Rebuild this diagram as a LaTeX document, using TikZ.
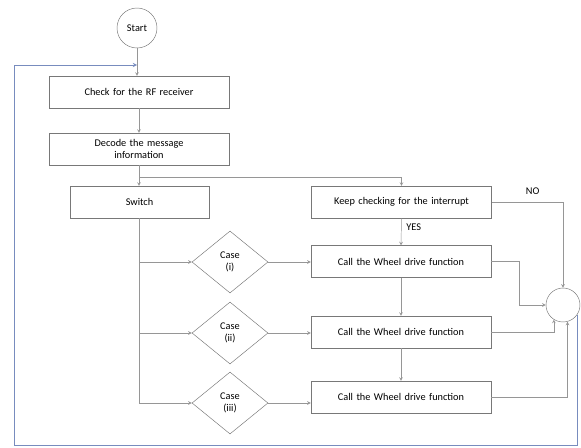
\documentclass[tikz,border=0pt]{standalone}
\usepackage{fontspec}
\setmainfont{Carlito}
\usepackage{tikz}
\usetikzlibrary{positioning,calc,shapes.geometric}
\definecolor{lineclr}{RGB}{150,150,150}
\definecolor{boxclr}{RGB}{120,120,120}
\definecolor{backclr}{RGB}{120,140,190}
\begin{document}
\begin{tikzpicture}[x=0.03cm,y=-0.03cm,font=\fontsize{8.8}{10}\selectfont,
		procbox/.style={draw=boxclr,fill=white,rectangle,minimum width=5.4cm,minimum height=0.95cm,text width=5.2cm,align=center,inner sep=1pt},
		casebox/.style={draw=boxclr,fill=white,diamond,minimum width=2.28cm,minimum height=1.86cm,inner sep=0pt,align=center},
		flow/.style={-stealth,draw=lineclr,thin},
		back/.style={-stealth,draw=backclr,semithick}]
		\useasboundingbox (0,0) rectangle (581,448);
		\node[draw=boxclr,circle,minimum size=1.2cm,inner sep=0pt] (start) at (137,28) {Start};
		\node[procbox] (check) at (139,92) {Check for the RF receiver};
		\node[procbox] (decode) at (139,149) {Decode the message\\information};
		\node[procbox,minimum width=4.17cm,text width=4cm] (switch) at (139.5,202) {Switch};
		\node[procbox] (keep) at (401.5,202) {Keep checking for the interrupt};
		\node[procbox] (call1) at (401,261.5) {Call the Wheel\ drive function};
		\node[procbox] (call2) at (401,332) {Call the Wheel\ drive function};
		\node[procbox] (call3) at (401,397) {Call the Wheel\ drive function};
		\node[casebox] (case1) at (230,262) {Case\\(i)};
		\node[casebox] (case2) at (230,333) {Case\\(ii)};
		\node[casebox] (case3) at (230,403) {Case\\(iii)};
		\node[draw=boxclr,circle,minimum size=1.02cm,inner sep=0pt] (end) at (563,305) {};
		\node[above right=0.1cm and 0.9cm of keep.east] (no) {NO};
		\node[below right=0.05cm and 0.02cm of keep.south] (yes) {YES};
		\coordinate (split) at (139,177);
		\coordinate (loop) at (137,65);
		
		\draw[flow] (start.south)--(check.north-|start.south);
		\draw[flow] (check.south)--(decode.north);
		\draw[flow] (decode.south)--(switch.north-|decode.south);
		\draw[flow] (split)-|(keep.north);
		\draw[flow] (switch.south)|-(case1.west);
		\draw[flow] (switch.south)|-(case2.west);
		\draw[flow] (switch.south)|-(case3.west);
		\draw[flow] (case1.east)--(case1.east-|call1.west);
		\draw[flow] (case2.east)--(case2.east-|call2.west);
		\draw[flow] (case3.east)--(case3.east-|call3.west);
		\draw[flow] (keep.south)--(call1.north);
		\draw[flow] (call1.south)--(call2.north);
		\draw[flow] (call2.south)--(call3.north);
		\draw[flow] (keep.east)-|(end.north);
		\draw[flow] (call1.east)--++(28,0)|-(end.west);
		\draw[flow] (call2.east)-|(end.238);
		\draw[flow] (call3.east)-|(end.285);
		\draw[back] (end.-35)--(end.-35|-0,445)--(14,445)--(14,65)--(loop);
	\end{tikzpicture}
\end{document}
